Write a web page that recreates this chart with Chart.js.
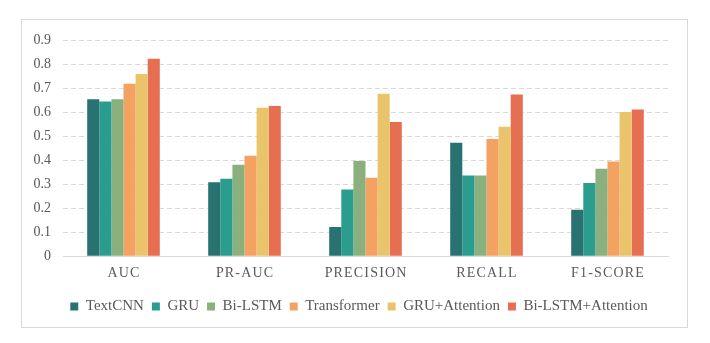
<!DOCTYPE html>
<html>
<head>
<meta charset="utf-8">
<script src="https://cdn.jsdelivr.net/npm/chart.js@4.4.1/dist/chart.umd.min.js"></script>
<style>
  html, body { margin: 0; padding: 0; background: #fff; }
  #box {
    position: absolute; left: 21px; top: 19px;
    width: 665px; height: 307px;
    border: 1px solid #d9d9d9;
  }
  #box canvas { display: block; }
</style>
</head>
<body>
<div id="box"><canvas id="chart"></canvas></div>
<script>
// metrics on the x axis
const categories = ['AUC', 'PR-AUC', 'PRECISION', 'RECALL', 'F1-SCORE'];

// one array per model
const textCNN      = [0.655, 0.308, 0.122, 0.473, 0.194];
const gru          = [0.645, 0.323, 0.278, 0.337, 0.305];
const biLSTM       = [0.655, 0.381, 0.397, 0.337, 0.365];
const transformer  = [0.719, 0.419, 0.327, 0.489, 0.395];
const gruAttn      = [0.760, 0.619, 0.677, 0.540, 0.601];
const biLSTMAttn   = [0.823, 0.626, 0.560, 0.674, 0.612];

const yTicks = [0, 0.1, 0.2, 0.3, 0.4, 0.5, 0.6, 0.7, 0.8, 0.9];

const series = [
  { label: 'TextCNN', data: textCNN, color: '#287271' },
  { label: 'GRU', data: gru, color: '#2a9d8f' },
  { label: 'Bi-LSTM', data: biLSTM, color: '#8ab17d' },
  { label: 'Transformer', data: transformer, color: '#f4a261' },
  { label: 'GRU+Attention', data: gruAttn, color: '#e9c46a' },
  { label: 'Bi-LSTM+Attention', data: biLSTMAttn, color: '#e76f51' }
];

const serif = "'Liberation Serif', 'Times New Roman', serif";
const textColor = '#595959';

// legend sits a little right of centre in the original
const legendShift = {
  id: 'legendShift',
  afterLayout(chart) {
    if (!chart.legend) return;
    chart.legend.left += 14;
    chart.legend.right += 14;
  }
};

const ctx = document.getElementById('chart');
new Chart(ctx, {
  type: 'bar',
  data: {
    labels: categories,
    datasets: series.map(s => ({
      label: s.label,
      data: s.data,
      backgroundColor: s.color,
      borderWidth: 0,
      barPercentage: 1.0,
      categoryPercentage: 0.6
    }))
  },
  options: {
    responsive: true,
    maintainAspectRatio: false,
    animation: false,
    layout: { padding: { left: 0, right: 19, top: 6, bottom: 3 } },
    plugins: {
      tooltip: { enabled: false },
      legend: {
        position: 'bottom',
        labels: {
          font: { family: serif, size: 15 },
          color: textColor,
          boxWidth: 8,
          boxHeight: 8,
          padding: 8
        }
      }
    },
    scales: {
      x: {
        grid: { display: false, drawTicks: false },
        border: { display: true, color: '#d9d9d9', width: 1 },
        ticks: {
          font: { family: serif, size: 14 },
          color: textColor,
          padding: 9,
          callback: function (v) {
            return this.getLabelForValue(v).split('').join('\u200A');
          }
        }
      },
      y: {
        min: 0,
        max: 0.9,
        afterBuildTicks: axis => { axis.ticks = yTicks.map(v => ({ value: v })); },
        afterFit: axis => { axis.width = 41; },
        grid: {
          color: c => c.tick.value === 0 ? 'rgba(0,0,0,0)' : '#d9d9d9',
          drawTicks: false
        },
        border: { display: false, dash: [5, 3] },
        ticks: {
          font: { family: serif, size: 14 },
          color: textColor,
          padding: 12,
          callback: v => String(Math.round(v * 10) / 10)
        }
      }
    }
  },
  plugins: [legendShift]
});
</script>
</body>
</html>
